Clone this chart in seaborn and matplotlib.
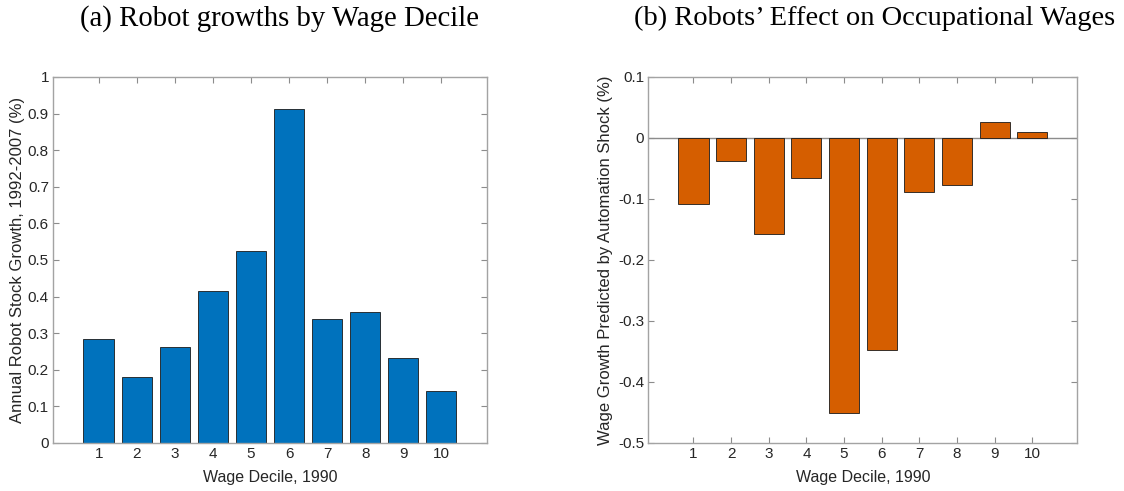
import matplotlib
matplotlib.use("Agg")
import matplotlib.pyplot as plt
import pandas as pd
import seaborn as sns

deciles = [1, 2, 3, 4, 5, 6, 7, 8, 9, 10]
robot_growth = [0.284, 0.180, 0.262, 0.415, 0.525, 0.912, 0.339, 0.359, 0.231, 0.142]
wage_effect = [-0.108, -0.038, -0.157, -0.066, -0.451, -0.348, -0.088, -0.077, 0.026, 0.010]
left_ticks = [0, 0.1, 0.2, 0.3, 0.4, 0.5, 0.6, 0.7, 0.8, 0.9, 1]
left_ticklabels = ["0", "0.1", "0.2", "0.3", "0.4", "0.5", "0.6", "0.7", "0.8", "0.9", "1"]
right_ticks = [-0.5, -0.4, -0.3, -0.2, -0.1, 0, 0.1]
right_ticklabels = ["-0.5", "-0.4", "-0.3", "-0.2", "-0.1", "0", "0.1"]

sns.set_theme(style="white")
plt.rcParams["font.family"] = ["Liberation Sans", "DejaVu Sans"]

BLUE = "#0072BD"
ORANGE = "#D55E00"
AXIS_GRAY = "#a3a3a3"
TEXT = "#262626"

df = pd.DataFrame({"decile": deciles, "robots": robot_growth, "wages": wage_effect})

fig = plt.figure(figsize=(11.24, 4.91), dpi=100)
ax1 = fig.add_axes([0.0472, 0.0978, 0.386, 0.7454])
ax2 = fig.add_axes([0.5768, 0.0978, 0.3817, 0.7454])


def style_axes(ax):
    for side in ["left", "right", "top", "bottom"]:
        ax.spines[side].set_visible(True)
        ax.spines[side].set_color(AXIS_GRAY)
        ax.spines[side].set_linewidth(1.0)
    ax.tick_params(axis="both", direction="in", length=4, width=0.8, color="#8c8c8c",
                   labelsize=11, labelcolor=TEXT, top=True, right=True,
                   labeltop=False, labelright=False, bottom=True, left=True, pad=3)
    ax.set_xlim(-0.2, 11.2)
    ax.set_xticks(deciles)
    ax.set_xticklabels([str(d) for d in deciles])
    ax.set_xlabel("Wage Decile, 1990", fontsize=11.5, color=TEXT, va="center")
    ax.xaxis.set_label_coords(0.5, -0.0956)


sns.barplot(data=df, x="decile", y="robots", native_scale=True, width=0.8,
            color=BLUE, saturation=1, edgecolor="#1a1a1a", linewidth=0.6, ax=ax1)
style_axes(ax1)
ax1.set_ylim(0, 1)
ax1.set_yticks(left_ticks)
ax1.set_yticklabels(left_ticklabels)
ax1.set_ylabel("Annual Robot Stock Growth, 1992-2007 (%)", fontsize=12, color=TEXT, va="center")
ax1.yaxis.set_label_coords(-0.082, 0.5)

sns.barplot(data=df, x="decile", y="wages", native_scale=True, width=0.8,
            color=ORANGE, saturation=1, edgecolor="#1a1a1a", linewidth=0.6, ax=ax2)
ax2.axhline(0, color="#8c8c8c", linewidth=1.0, zorder=0)
style_axes(ax2)
ax2.set_ylim(-0.5, 0.1)
ax2.set_yticks(right_ticks)
ax2.set_yticklabels(right_ticklabels)
ax2.set_ylabel("Wage Growth Predicted by Automation Shock (%)", fontsize=12, color=TEXT, va="center")
ax2.yaxis.set_label_coords(-0.099, 0.5)

title_font = ["Liberation Serif", "DejaVu Serif"]
fig.text(0.2485, 0.963, "(a) Robot growths by Wage Decile", ha="center", va="center",
         fontsize=20.7, family=title_font, color="black")
fig.text(0.7785, 0.963, "(b) Robots\u2019 Effect on Occupational Wages", ha="center", va="center",
         fontsize=20.5, family=title_font, color="black")

fig.savefig("out.png", dpi=100)
